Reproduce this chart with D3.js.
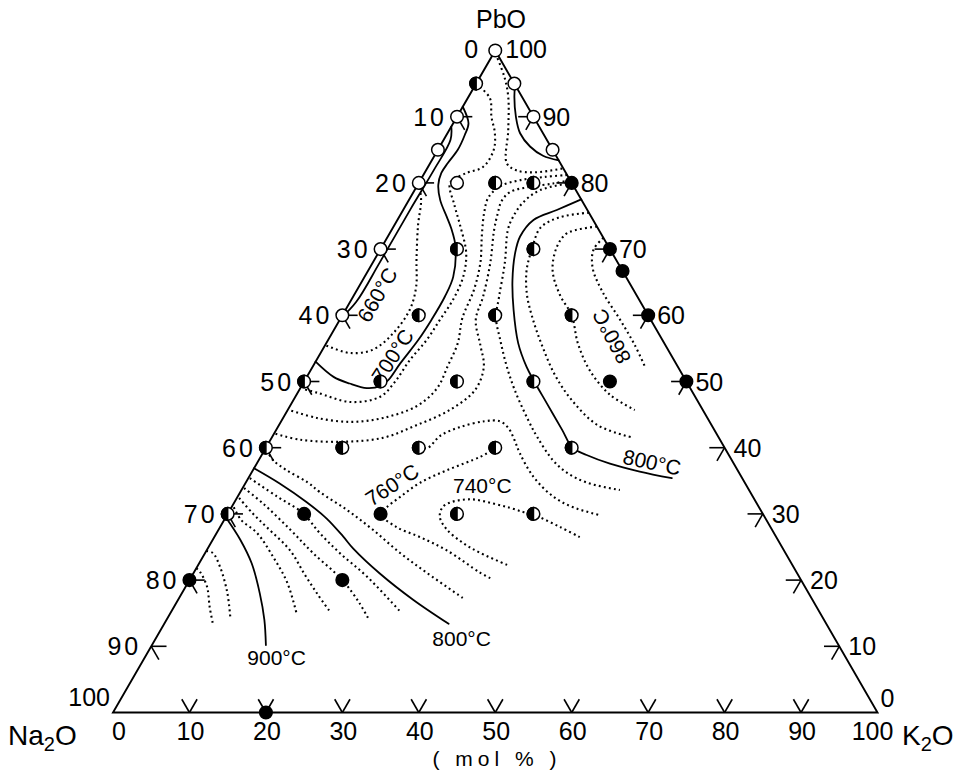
<!DOCTYPE html>
<html><head><meta charset="utf-8">
<script src="https://cdn.jsdelivr.net/npm/d3@7"></script>
<style>
html,body{margin:0;padding:0;background:#fff;}
svg{display:block;}
text{font-family:"Liberation Sans",Arial,sans-serif;fill:#000;}
</style></head><body>
<svg id="chart" width="960" height="775"></svg>
<script>
// ---------- DATA (composition, mol %: [K2O, PbO]; Na2O = 100 - K2O - PbO) ----------
const axisTicks = [10,20,30,40,50,60,70,80,90];
const axisLabels = [0,10,20,30,40,50,60,70,80,90,100];

const openPts = [[0,100],[0,90],[0,85],[0,80],[0,70],[0,60],[5,95],[10,90],[15,85],[5,80]];
const halfPts = [[0,95],[10,80],[15,80],[10,70],[20,70],[10,60],[20,60],[30,60],[0,50],[10,50],[20,50],[30,50],
                 [0,40],[10,40],[20,40],[30,40],[40,40],[0,30],[30,30],[40,30]];
const fullPts = [[20,80],[30,70],[33.3,66.7],[40,60],[50,50],[40,50],[10,30],[20,30],[0,20],[20,20],[20,0]];

// solid isotherms
const iso660 = [[0,88.5],[0.9,86.5],[1.0,82],[0.9,76],[0.9,68],[0.8,62],[0,59.5]];
const iso700 = [[0,91.5],[2.0,89.0],[2.4,87.2],[2.6,85.0],[2.3,83.0],[2.2,81.5],[2.7,79.7],[4.1,77.4],[6.2,74.9],
                [7.7,73.1],[9.6,70.4],[11.6,65.8],[12.0,62.8],[12.0,59.3],[11.8,56.3],[11.2,52.7],[10.9,50.2],
                [10.3,49.3],[8.7,49.0],[6.1,49.7],[3.5,50.7],[0,53]];
const iso800R = [[22.5,77.5],[20.1,75.9],[17.8,74.4],[17.3,71.9],[17.9,69.4],[19.6,65.3],[22.0,60.8],[25.1,55.8],
                 [28.0,52.2],[30.1,50.0],[33.4,46.7],[37.4,42.7],[40.1,40.0],[42.5,38.9],[46.2,37.6],[50.7,36.4],[55.4,35.4]];
const iso800L = [[0,36.9],[4.5,34.6],[9.4,31.8],[13.3,29.3],[16.8,26.6],[19.0,24.8],[24.4,21.0],[30.8,17.0],[37.2,13.4]];
const iso900 = [[0,29.5],[3.6,26.1],[6.9,22.5],[10.2,18.0],[12.8,14.0],[14.9,10.2]];
const isoTop = [[5.2,94.8],[6.0,93.0],[7.7,90.0],[9.5,87.5],[11.8,85.5],[14.2,84.1],[16.6,83.4]];

// dotted intermediate isotherms
const dotA = [[0.3,99.5],[3.2,96.0],[5.2,93.0],[7.7,88.0],[10.0,83.0],[11.8,81.9],[14.5,81.6],[17.8,82.2]];
const dotM1 = [[0,95],[2.9,92.8],[4.5,90.0],[6.2,87.5],[7.3,85.0],[7.2,82.4],[5.5,81.5],[4.1,80.0],[6.3,76.7],
               [8.6,73.6],[11.5,69.4],[12.9,65.8],[13.3,62.3],[13.1,59.3],[12.9,56.3],[12.2,53.2],[11.9,49.9],
               [11.1,47.7],[7.6,46.9],[2.6,48.3],[0.3,48.9]];
const dotL1 = [[0,80],[1.6,77.4],[3.1,73.6],[5.5,68.4],[7.5,64.3],[8.4,60.8],[8.0,57.3],[6.6,54.8],[3.9,54.3],[0.8,55.2],[0,55.5]];
const dotM2 = [[18.8,81.2],[16,80.9],[13,80.4],[10.9,79.5],[10.2,77.8],[10.8,75.5],[12.2,72.1],[14.1,67.9],[15.3,63.8],
               [15.9,59.6],[17.2,55.8],[17.6,52.5],[17.9,49.0],[16.6,46.3],[13.1,44.5],[9.1,43.9],[4.4,44.5],[0.2,45.7]];
const dotM3 = [[19.5,80.4],[17.6,79.9],[14.8,79.4],[12.6,78.6],[12.2,77.2],[12.6,75.5],[13.4,72.9],[15.4,67.9],[17.0,62.8],
               [17.8,59.3],[20.3,55.5],[22.4,52.2],[23.0,48.7],[21.2,45.7],[18.0,43.4],[14.6,41.5],[9.7,40.9],[3.9,41.2],[0.2,42.1]];
const dotM4 = [[20,80],[16.4,78.9],[15.1,77.0],[14.9,74.8],[15.2,72.9],[17.3,67.9],[19.1,62.8],[20.3,59.6],[22.5,56.3],
               [25.2,52.5],[28.2,48.7],[32.2,44.2],[34.7,41.6],[38.5,38.1],[41.3,36.2],[44.7,34.7],[49.5,33.6]];
const dotC1 = [[20,40],[21.2,40.0],[21.9,41.8],[23.8,43.1],[26.6,44.0],[28.6,44.0],[30.2,43.0],[31.9,41.2],[33.6,39.2],
               [37.2,35.6],[41.3,32.6],[44.7,31.0],[48.8,29.8]];
const dot760 = [[39.2,20.3],[37.5,21.1],[31.4,24.5],[26.9,26.5],[23.1,28.0],[20,30],[20.3,31.0],[21.3,32.6],[22.8,34.7],
                [25.4,36.6],[28.7,38.6],[29.6,39.4]];
const dot740 = [[40.4,22.3],[36.0,24.1],[33.0,25.6],[29.9,27.6],[28.0,29.5],[27.6,31.0],[28.4,31.8],[30.8,32.2],[33.8,31.6],
                [36.5,30.9],[38.5,30.3],[40,30],[41.1,29.5],[44.5,28.0],[47.8,26.5]];
const dotP1 = [[0.3,39.6],[1.9,38.1],[4.4,36.6],[8.0,34.8],[10.4,33.3],[15.3,30.6],[20.2,27.6],[25.5,24.1],[30.5,21.1],[37.1,17.3]];
const dotQ1 = [[0.2,35.4],[5.2,32.6],[9.8,30.1],[13.5,27.1],[17.6,24.1],[23.0,20.5],[30.0,15.2]];
const dotQ2 = [[0.2,33.9],[3.8,31.6],[9.4,27.6],[14.1,24.1],[20,20],[24.0,16.5],[26.2,14.3]];
const dotQ3 = [[0.3,32.4],[3.2,30.1],[6.1,28.0],[10.9,24.5],[14.7,20.8],[17.9,17.8],[20.8,15.2]];
const dotQ4 = [[0.3,31.0],[2.2,29.1],[5.3,27.1],[9.2,23.5],[13.0,19.6],[16.5,15.0]];
const dotLL1 = [[0,21.8],[0.8,21.2],[2.8,19.0],[4.7,15.9],[6.5,13.2]];
const dotLL2 = [[0,24.4],[1.0,24.1],[3.0,22.0],[5.9,18.1],[8.2,14.3]];
const dotR1 = [[24.5,75.5],[21.0,74.8],[19.3,73.2],[19.8,70.0],[20.7,66.8],[22.6,63.1],[25.3,59.3],[28.6,55.2],[32.3,51.0],
               [36.4,47.2],[41.7,43.4],[47.3,41.5]];
const dotR2 = [[26.6,73.4],[23.2,72.4],[22.9,70.3],[24.1,66.8],[26.9,63.1],[30,60],[32.9,55.8],[36.5,51.7],[41.0,48.0],[45.4,45.7]];
const dot860 = [[28.3,71.7],[27.9,69.9],[29.2,67.1],[32.3,63.5],[36.7,59.3],[40.5,55.5],[43.5,52.2]];

const solidLines = [iso660, iso700, iso800R, iso800L, iso900, isoTop];
const dottedLines = [dotA, dotM1, dotL1, dotM2, dotM3, dotM4, dotC1, dot760, dot740, dotP1,
                     dotQ1, dotQ2, dotQ3, dotQ4, dotLL1, dotLL2, dotR1, dotR2, dot860];

// isotherm labels: text, [K2O, PbO] anchor, rotation
const isoLabels = [
  {t:"660°C", at:[3.0,63.1], rot:-60, anchor:"middle", center:true},
  {t:"700°C", at:[9.6,53.9], rot:-57, anchor:"middle", center:true},
  {t:"760°C", at:[19.3,34.4], rot:-33, anchor:"middle", center:true},
  {t:"740°C", at:[31.7,33.2], rot:0, anchor:"middle", center:false},
  {t:"800°C", at:[51.6,37.8], rot:12, anchor:"middle", center:true},
  {t:"860°C", at:[36.8,56.8], rot:-118, anchor:"middle", center:true},
  {t:"800°C", at:[40.6,10.0], rot:0, anchor:"middle", center:false},
  {t:"900°C", at:[17.8,7.2], rot:0, anchor:"middle", center:false}
];

// ---------- DRAWING ----------
const svg = d3.select("#chart");
const xs = d3.scaleLinear().domain([0,100]).range([113,877.5]);
const ys = d3.scaleLinear().domain([0,100]).range([712.5,50.5]);
const P = (k,pb) => [xs(k + pb/2), ys(pb)];

const curve = d3.line().x(d=>P(d[0],d[1])[0]).y(d=>P(d[0],d[1])[1]).curve(d3.curveCatmullRom.alpha(0.5));

// contours
const gC = svg.append("g").attr("fill","none").attr("stroke","#000");
gC.selectAll("path.dot").data(dottedLines).join("path")
  .attr("class","dot").attr("d",curve)
  .attr("stroke-width",2.1).attr("stroke-dasharray","1.9 3.2");
gC.selectAll("path.sol").data(solidLines).join("path")
  .attr("class","sol").attr("d",curve)
  .attr("stroke-width",1.8).attr("stroke-linecap","round");

// triangle
svg.append("path")
  .attr("d", d3.line()([P(0,0),P(100,0),P(0,100)]) + "Z")
  .attr("fill","none").attr("stroke","#000").attr("stroke-width",1.9);

// ticks (two grid directions at every 10 %)
const tl = 2;
const ticks = [];
axisTicks.forEach(v=>{
  ticks.push([P(v,0),P(v,tl)], [P(v,0),P(v-tl,tl)]);
  ticks.push([P(0,100-v),P(tl,100-v)], [P(0,100-v),P(tl,100-v-tl)]);
  ticks.push([P(100-v,v),P(100-v-tl,v)], [P(100-v,v),P(100-v,v-tl)]);
});
svg.append("g").selectAll("path").data(ticks).join("path")
  .attr("d",d=>d3.line()(d)).attr("stroke","#000").attr("stroke-width",1.6).attr("fill","none");

// axis labels
const gL = svg.append("g").attr("font-size",25);
// bottom (K2O)
gL.selectAll("text.b").data(axisLabels).join("text").attr("class","b")
  .attr("x",v=>P(v,0)[0] + (v===0?6:(v===100?-5:1)))
  .attr("y",ys(0)+27.5).attr("text-anchor","middle").text(v=>v);
// left (Na2O)
gL.selectAll("text.l").data(axisLabels).join("text").attr("class","l")
  .attr("x",v=>P(0,100-v)[0] + (v===100?-3:(v===0?-17:-10)))
  .attr("y",v=>P(0,100-v)[1] + (v===100?-7:(v===0?7.5:9)))
  .attr("text-anchor","end").attr("letter-spacing",v=>v===100||v===0?0:3).text(v=>v);
// right (PbO)
gL.selectAll("text.r").data(axisLabels).join("text").attr("class","r")
  .attr("x",v=>P(100-v,v)[0] + (v===0?3:(v===100?10:9)))
  .attr("y",v=>P(100-v,v)[1] + (v===0?-6:(v===100?7.5:9)))
  .attr("text-anchor","start").text(v=>v);

// component names
svg.append("text").attr("x",501).attr("y",28).attr("text-anchor","middle").attr("font-size",25).text("PbO");
const na = svg.append("text").attr("x",8).attr("y",745).attr("font-size",28);
na.append("tspan").text("Na");
na.append("tspan").attr("font-size",20).attr("dy",6).text("2");
na.append("tspan").attr("dy",-6).text("O");
const k = svg.append("text").attr("x",902).attr("y",745).attr("font-size",28);
k.append("tspan").text("K");
k.append("tspan").attr("font-size",20).attr("dy",6).text("2");
k.append("tspan").attr("dy",-6).text("O");
svg.append("text").attr("x",497).attr("y",766).attr("text-anchor","middle")
  .attr("font-size",21).attr("letter-spacing",5).text("( mol % )");

// isotherm labels
svg.append("g").attr("font-size",21).selectAll("text").data(isoLabels).join("text")
  .attr("text-anchor",d=>d.anchor)
  .attr("dominant-baseline",d=>d.center?"central":"auto")
  .attr("transform",d=>{const p=P(d.at[0],d.at[1]);return `translate(${p[0]},${p[1]}) rotate(${d.rot})`;})
  .text(d=>d.t);

// data points
const r = 6.3;
const gP = svg.append("g").attr("stroke","#000").attr("stroke-width",1.5);
gP.selectAll("circle.o").data(openPts).join("circle").attr("class","o")
  .attr("cx",d=>P(d[0],d[1])[0]).attr("cy",d=>P(d[0],d[1])[1]).attr("r",r).attr("fill","#fff");
gP.selectAll("circle.f").data(fullPts).join("circle").attr("class","f")
  .attr("cx",d=>P(d[0],d[1])[0]).attr("cy",d=>P(d[0],d[1])[1]).attr("r",r).attr("fill","#000");
const hp = gP.selectAll("g.h").data(halfPts).join("g").attr("class","h")
  .attr("transform",d=>`translate(${P(d[0],d[1])[0]},${P(d[0],d[1])[1]})`);
hp.append("circle").attr("r",r).attr("fill","#fff");
hp.append("path").attr("d",`M0,${-r}A${r},${r} 0 0 0 0,${r}Z`).attr("fill","#000");
</script></body></html>
